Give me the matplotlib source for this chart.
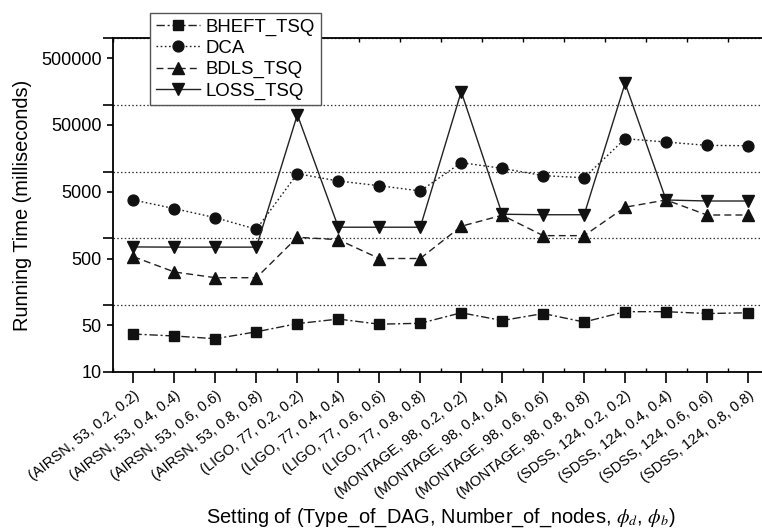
import matplotlib
matplotlib.use("Agg")
import matplotlib.pyplot as plt
from matplotlib.ticker import FixedLocator, FixedFormatter

plt.rcParams['font.family'] = ['Liberation Sans', 'DejaVu Sans']
plt.rcParams['mathtext.fontset'] = 'stix'

categories = [
    "(AIRSN, 53, 0.2, 0.2)", "(AIRSN, 53, 0.4, 0.4)", "(AIRSN, 53, 0.6, 0.6)", "(AIRSN, 53, 0.8, 0.8)",
    "(LIGO, 77, 0.2, 0.2)", "(LIGO, 77, 0.4, 0.4)", "(LIGO, 77, 0.6, 0.6)", "(LIGO, 77, 0.8, 0.8)",
    "(MONTAGE, 98, 0.2, 0.2)", "(MONTAGE, 98, 0.4, 0.4)", "(MONTAGE, 98, 0.6, 0.6)", "(MONTAGE, 98, 0.8, 0.8)",
    "(SDSS, 124, 0.2, 0.2)", "(SDSS, 124, 0.4, 0.4)", "(SDSS, 124, 0.6, 0.6)", "(SDSS, 124, 0.8, 0.8)",
]

bheft_tsq = [37, 34.6, 31.5, 40, 53, 62, 52, 53.6, 77, 59, 75, 56, 80, 80, 75, 77]
dca = [3760, 2790, 2040, 1370, 9300, 7230, 6150, 5130, 13600, 11200, 8700, 8100, 31100, 27700, 24700, 24400]
bdls_tsq = [532, 314, 258, 258, 1040, 957, 500, 500, 1520, 2220, 1100, 1100, 2930, 3760, 2240, 2240]
loss_tsq = [745, 740, 740, 740, 71100, 1470, 1470, 1470, 157000, 2300, 2260, 2260, 210000, 3760, 3630, 3630]

series_names = ["BHEFT_TSQ", "DCA", "BDLS_TSQ", "LOSS_TSQ"]

# decade ticks (long, only 10 labelled) and 5x ticks (short, labelled)
y_major = [10, 100, 1000, 10000, 100000, 1000000]
y_major_labels = ["10", "", "", "", "", ""]
y_minor = [50, 500, 5000, 50000, 500000]
y_minor_labels = ["50", "500", "5000", "50000", "500000"]

W, H = 762, 532
fig = plt.figure(figsize=(W / 100, H / 100), dpi=100)
left = 113 / W
right = 768.5 / W
bottom = 1 - 372 / H
top = 1 - 38 / H
ax = fig.add_axes([left, bottom, right - left, top - bottom])
axw = 768.5 - 113

x = list(range(len(categories)))
lw = 1.0
ax.plot(x, bheft_tsq, linestyle=(0, (6, 2, 1.5, 2)), color='#222222', lw=lw, marker='s',
        markersize=7.2, markerfacecolor='#111111', markeredgecolor='#111111', label=series_names[0], zorder=3)
ax.plot(x, dca, linestyle=(0, (1.2, 1.8)), color='#222222', lw=lw, marker='o',
        markersize=7.8, markerfacecolor='#111111', markeredgecolor='#111111', label=series_names[1], zorder=3)
ax.plot(x, bdls_tsq, linestyle=(0, (5, 3)), color='#222222', lw=lw, marker='^',
        markersize=8.8, markerfacecolor='#111111', markeredgecolor='#111111', label=series_names[2], zorder=3)
ax.plot(x, loss_tsq, linestyle='-', color='#222222', lw=lw, marker='v',
        markersize=8.8, markerfacecolor='#111111', markeredgecolor='#111111', label=series_names[3], zorder=3)

ax.set_yscale('log')
ax.set_ylim(10, 1000000)
ax.set_xlim(-0.5, len(categories) - 0.5)

ax.yaxis.set_major_locator(FixedLocator(y_major))
ax.yaxis.set_major_formatter(FixedFormatter(y_major_labels))
ax.yaxis.set_minor_locator(FixedLocator(y_minor))
ax.yaxis.set_minor_formatter(FixedFormatter(y_minor_labels))
ax.tick_params(axis='y', which='major', direction='out', length=7, width=1.2, labelsize=13, pad=1)
ax.tick_params(axis='y', which='minor', direction='out', length=4, width=1.2, labelsize=13, pad=4)

ax.set_xticks(x)
ax.set_xticklabels(categories, rotation=38, ha='right', va='top', rotation_mode='anchor', fontsize=10.5)
ax.xaxis.set_minor_locator(FixedLocator([i + 0.5 for i in range(-1, len(categories))]))
ax.tick_params(axis='x', which='major', direction='out', length=8, width=1.2, pad=4, top=False)
ax.tick_params(axis='x', which='minor', direction='in', length=3, width=1.0, top=True, bottom=True)

ax.grid(which='major', axis='y', linestyle=(0, (1.2, 1.8)), color='#333333', lw=0.9)

for s in ['left', 'bottom', 'top']:
    ax.spines[s].set_linewidth(1.3)
ax.spines['right'].set_visible(False)

ax.set_ylabel("Running Time (milliseconds)", fontsize=14.4)
ax.set_xlabel(r"Setting of (Type_of_DAG, Number_of_nodes, $\phi_d$, $\phi_b$)", fontsize=14.4, labelpad=4)
ax.yaxis.set_label_coords((32 - 113) / axw, 0.5)

leg = ax.legend(loc='upper left', bbox_to_anchor=(150 / W, 1 - 13 / H), bbox_transform=fig.transFigure,
                borderaxespad=0, fontsize=13.4, handlelength=2.4, labelspacing=0.22, borderpad=0.3,
                handletextpad=0.3, fancybox=False, framealpha=1, edgecolor='#555555')
leg.get_frame().set_linewidth(1.0)
leg.set_zorder(10)

fig.savefig("out.png", dpi=100)
